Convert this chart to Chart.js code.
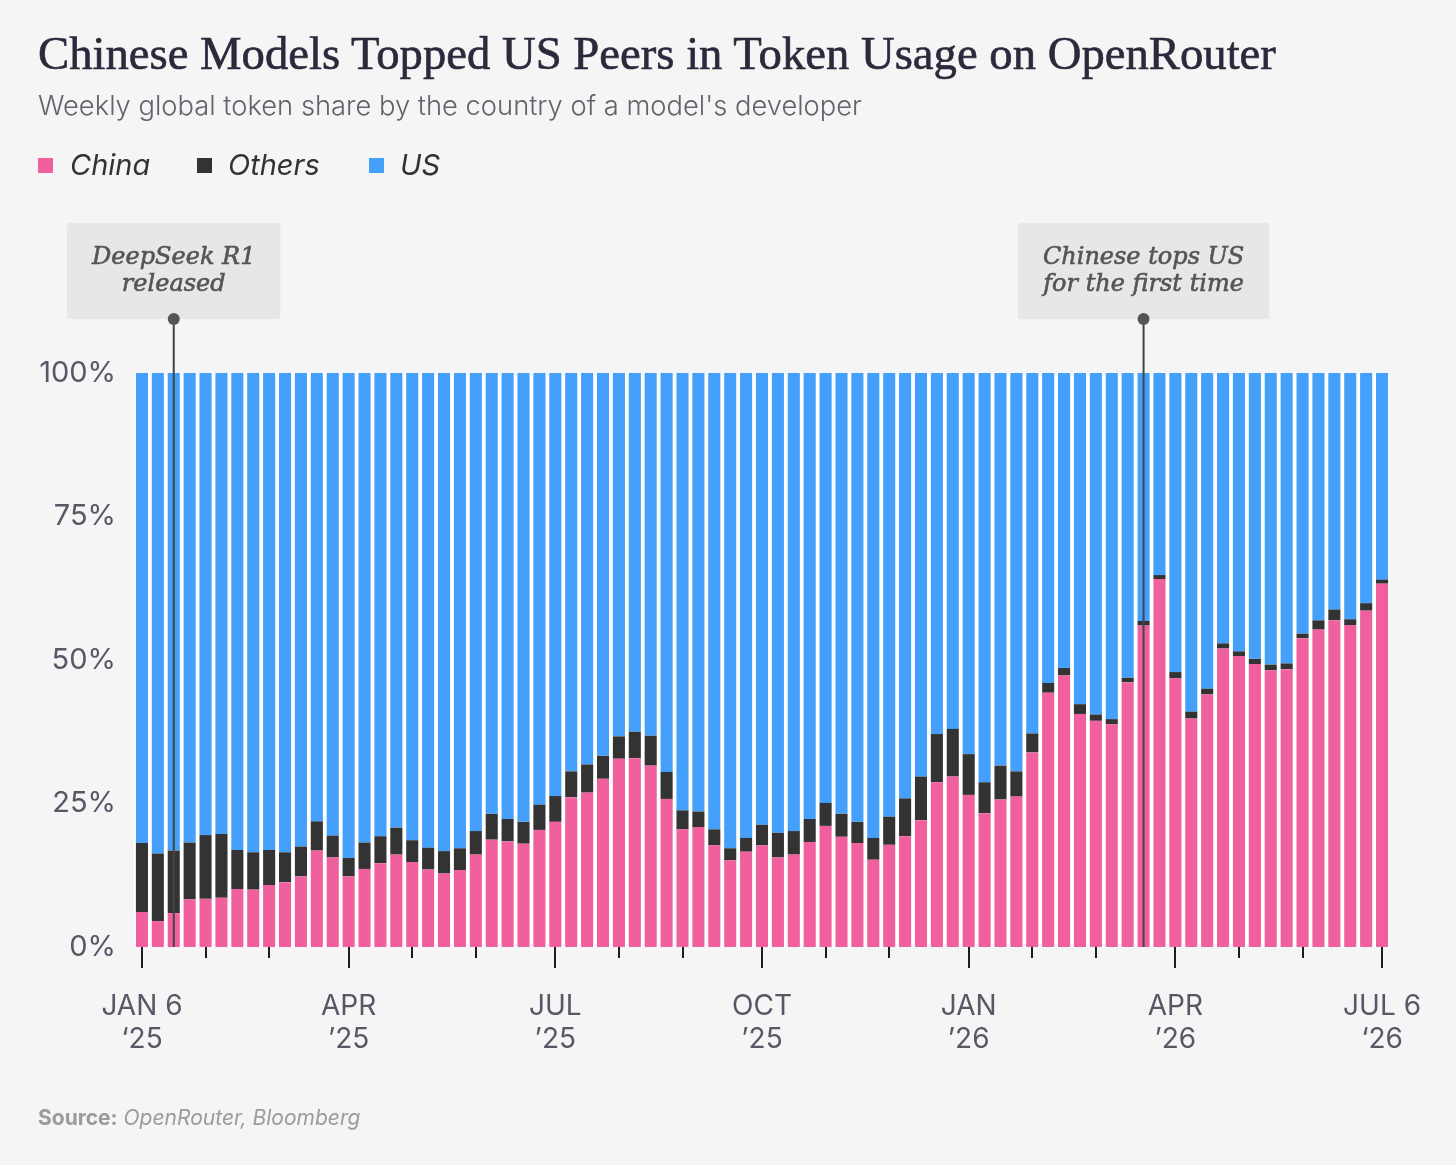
<!DOCTYPE html>
<html>
<head>
<meta charset="utf-8">
<script src="https://cdn.jsdelivr.net/npm/chart.js@4.4.1/dist/chart.umd.min.js"></script>
<style>
  html, body { margin: 0; padding: 0; background: #f5f5f5; }
  #wrap { position: relative; width: 1456px; height: 1165px; overflow: hidden; }
  #chart { position: absolute; left: 0; top: 0; }
  .txt { position: absolute; white-space: nowrap; line-height: 1; }
  #title { left: 38px; top: 30px; font-family: 'Liberation Serif', serif; font-size: 47px; color: #2a2a3c; -webkit-text-stroke: 0.6px #2a2a3c; }
  #subtitle { left: 38px; top: 92px; font-family: Inter, sans-serif; font-weight: 300; font-size: 26px; color: #63636d; }
  .leg { position: absolute; top: 150px; font-family: Inter, sans-serif; font-style: italic; font-size: 29px; color: #333; line-height: 30px; }
  .sw { position: absolute; width: 15px; height: 15px; top: 158px; }
  #source { left: 38px; top: 1107px; font-family: Inter, sans-serif; font-size: 21px; color: #9b9b9b; }
  #source b { font-weight: 700; }
  #source i { font-style: italic; }
</style>
</head>
<body>
<div id="wrap">
  <canvas id="chart" width="1456" height="1165"></canvas>
  <div class="txt" id="title">Chinese Models Topped US Peers in Token Usage on OpenRouter</div>
  <div class="txt" id="subtitle">Weekly global token share by the country of a model's developer</div>
  <div class="sw" style="left:38px;background:#f0609e"></div>
  <div class="leg" style="left:70px">China</div>
  <div class="sw" style="left:197px;background:#333333"></div>
  <div class="leg" style="left:228px">Others</div>
  <div class="sw" style="left:369px;background:#45a0fc"></div>
  <div class="leg" style="left:400px">US</div>
  <div class="txt" id="source"><b>Source:</b> <i>OpenRouter, Bloomberg</i></div>
</div>
<script>
// weekly token share (%), week starting Jan 6 2025 .. Jul 6 2026
var china = [6.1, 4.5, 5.9, 8.3, 8.4, 8.6, 10.1, 10.0, 10.8, 11.3,
  12.3, 16.8, 15.6, 12.3, 13.6, 14.6, 16.1, 14.8, 13.5, 12.8,
  13.4, 16.1, 18.7, 18.4, 18.0, 20.4, 21.8, 26.1, 26.9, 29.3,
  32.8, 32.9, 31.6, 25.8, 20.5, 20.9, 17.7, 15.1, 16.6, 17.7,
  15.6, 16.1, 18.3, 21.1, 19.2, 18.1, 15.2, 17.8, 19.3, 22.1,
  28.7, 29.7, 26.5, 23.3, 25.7, 26.2, 33.9, 44.3, 47.3, 40.6,
  39.4, 38.8, 46.1, 56.0, 64.1, 46.8, 39.8, 44.0, 52.0, 50.7,
  49.3, 48.2, 48.4, 53.8, 55.3, 56.9, 56.1, 58.6, 63.3];

var others = [12.0, 11.8, 10.9, 9.9, 11.1, 11.1, 6.8, 6.5, 6.1, 5.2,
  5.2, 5.1, 3.8, 3.2, 4.6, 4.7, 4.7, 3.8, 3.8, 3.9,
  3.8, 4.1, 4.5, 3.9, 3.8, 4.4, 4.5, 4.5, 4.9, 4.0,
  3.9, 4.6, 5.2, 4.7, 3.3, 2.7, 2.8, 2.1, 2.4, 3.6,
  4.3, 4.1, 4.0, 4.0, 4.0, 3.7, 3.8, 4.9, 6.6, 7.6,
  8.4, 8.3, 7.1, 5.4, 5.9, 4.4, 3.3, 1.7, 1.3, 1.7,
  1.1, 0.9, 0.8, 0.8, 0.7, 1.1, 1.2, 1.0, 0.9, 0.8,
  0.9, 1.0, 1.0, 0.8, 1.6, 1.9, 1.0, 1.3, 0.7];

var us = [81.9, 83.7, 83.2, 81.8, 80.5, 80.3, 83.1, 83.5, 83.1, 83.5,
  82.5, 78.1, 80.6, 84.5, 81.8, 80.7, 79.2, 81.4, 82.7, 83.3,
  82.8, 79.8, 76.8, 77.7, 78.2, 75.2, 73.7, 69.4, 68.2, 66.7,
  63.3, 62.5, 63.2, 69.5, 76.2, 76.4, 79.5, 82.8, 81.0, 78.7,
  80.1, 79.8, 77.7, 74.9, 76.8, 78.2, 81.0, 77.3, 74.1, 70.3,
  62.9, 62.0, 66.4, 71.3, 68.4, 69.4, 62.8, 54.0, 51.4, 57.7,
  59.5, 60.3, 53.1, 43.2, 35.2, 52.1, 59.0, 55.0, 47.1, 48.5,
  49.8, 50.8, 50.6, 45.4, 43.1, 41.2, 42.9, 40.1, 36.0];

// week start dates
var weeks = [];
for (var i = 0; i < china.length; i++) {
  weeks.push(new Date(Date.UTC(2025, 0, 6 + i * 7)));
}

var monthNames = ['JAN','FEB','MAR','APR','MAY','JUN','JUL','AUG','SEP','OCT','NOV','DEC'];

var notes = [
  { week: 2, lines: ['DeepSeek R1', 'released'] },
  { week: 63, lines: ['Chinese tops US', 'for the first time'] }
];

var isMonthStart = (i) => i === 0 || weeks[i].getUTCMonth() !== weeks[i - 1].getUTCMonth();
var isQuarter = (i) => isMonthStart(i) && weeks[i].getUTCMonth() % 3 === 0;

var tickLabel = (i) => {
  if (!isQuarter(i)) return '';
  var d = weeks[i];
  var edge = i === 0 || i === weeks.length - 1;
  var yy = String(d.getUTCFullYear()).slice(2);
  var name = monthNames[d.getUTCMonth()] + (edge ? ' ' + d.getUTCDate() : '');
  return [name, (edge ? '\u2018' : '\u2019') + yy];
};

// white behind the bars, month ticks, annotation boxes
var decor = {
  id: 'decor',
  beforeDatasetsDraw: (chart) => {
    var a = chart.chartArea, ctx = chart.ctx;
    ctx.save();
    ctx.fillStyle = '#ffffff';
    ctx.fillRect(a.left, a.top, a.right - a.left, a.bottom - a.top);
    ctx.restore();
  },
  afterDatasetsDraw: (chart) => {
    var a = chart.chartArea, ctx = chart.ctx, xs = chart.scales.x;
    ctx.save();
    ctx.strokeStyle = '#1c1c1c';
    ctx.lineWidth = 2;
    weeks.forEach((w, i) => {
      if (!isMonthStart(i)) return;
      var x = Math.round(xs.getPixelForValue(i));
      ctx.beginPath();
      ctx.moveTo(x, a.bottom);
      ctx.lineTo(x, a.bottom + (isQuarter(i) ? 21 : 11));
      ctx.stroke();
    });

    var boxBottom = a.top - 54, boxH = 96;
    notes.forEach(n => {
      var x = xs.getPixelForValue(n.week);
      ctx.font = 'italic 24px "DejaVu Serif", serif';
      var tw = Math.max.apply(null, n.lines.map(l => ctx.measureText(l).width));
      var bw = tw + 50;
      ctx.fillStyle = '#e7e7e7';
      ctx.beginPath();
      ctx.roundRect(x - bw / 2, boxBottom - boxH, bw, boxH, 3);
      ctx.fill();
      ctx.fillStyle = '#555555';
      ctx.strokeStyle = '#555555';
      ctx.lineWidth = 0.6;
      ctx.textAlign = 'center';
      ctx.textBaseline = 'middle';
      [-13, 14].forEach((dy, k) => {
        ctx.fillText(n.lines[k], x, boxBottom - boxH / 2 + dy);
        ctx.strokeText(n.lines[k], x, boxBottom - boxH / 2 + dy);
      });

      ctx.strokeStyle = '#444444';
      ctx.lineWidth = 2;
      ctx.beginPath();
      ctx.moveTo(x, boxBottom);
      ctx.lineTo(x, a.bottom);
      ctx.stroke();
      ctx.fillStyle = '#555555';
      ctx.beginPath();
      ctx.arc(x, boxBottom, 6, 0, Math.PI * 2);
      ctx.fill();
    });
    ctx.restore();
  }
};

var barStyle = { barPercentage: 0.76, categoryPercentage: 1, borderWidth: 0 };

new Chart(document.getElementById('chart'), {
  type: 'bar',
  data: {
    labels: weeks.map(d => d.toISOString().slice(0, 10)),
    datasets: [
      Object.assign({ label: 'China', data: china, backgroundColor: '#f0609e' }, barStyle),
      Object.assign({ label: 'Others', data: others, backgroundColor: '#333333' }, barStyle),
      Object.assign({ label: 'US', data: us, backgroundColor: '#45a0fc' }, barStyle)
    ]
  },
  options: {
    responsive: false,
    animation: false,
    layout: { padding: { top: 373, right: 66, bottom: 98, left: 0 } },
    plugins: { legend: { display: false }, tooltip: { enabled: false } },
    scales: {
      x: {
        stacked: true,
        // tick marks are drawn by the plugin; tickLength only pushes labels down
        grid: { display: false, drawTicks: true, tickLength: 43 },
        border: { display: false },
        afterFit: s => { s.height = 120; },
        ticks: {
          autoSkip: false,
          maxRotation: 0,
          padding: 0,
          color: '#565866',
          font: { family: 'Inter', size: 28, lineHeight: 1.18 },
          callback: (v, i) => tickLabel(i)
        }
      },
      y: {
        stacked: true,
        min: 0,
        max: 100,
        grid: { display: false, drawTicks: false },
        border: { display: false },
        afterFit: s => { s.width = 134; },
        ticks: {
          stepSize: 25,
          padding: 18,
          color: '#565866',
          font: { family: 'Inter', size: 29 },
          callback: v => v + '%'
        }
      }
    }
  },
  plugins: [decor]
});

// fit headline widths to the reference
var fit = (id, target) => {
  var el = document.getElementById(id);
  var w = el.getBoundingClientRect().width;
  var fs = parseFloat(getComputedStyle(el).fontSize);
  el.style.fontSize = (fs * target / w).toFixed(2) + 'px';
};
fit('title', 1238);
fit('subtitle', 824);
</script>
</body>
</html>
